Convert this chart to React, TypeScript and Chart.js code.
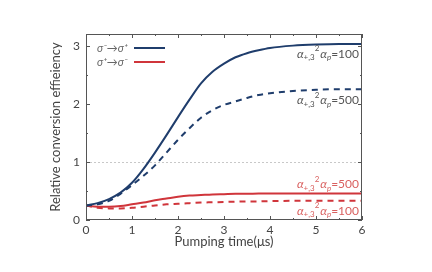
import React, { useEffect, useRef } from "react";
import { Chart, registerables } from "chart.js";

Chart.register(...registerables);

const times = [0, 0.25, 0.5, 0.75, 1, 1.25, 1.5, 1.75, 2, 2.25, 2.5, 2.75, 3, 3.25, 3.5, 3.75, 4, 4.5, 5, 5.5, 6];
const blueSolid = [0.25, 0.29, 0.36, 0.47, 0.64, 0.88, 1.16, 1.46, 1.77, 2.07, 2.35, 2.55, 2.69, 2.8, 2.87, 2.92, 2.96, 3.0, 3.02, 3.03, 3.03];
const blueDashed = [0.25, 0.27, 0.33, 0.45, 0.6, 0.76, 0.94, 1.16, 1.38, 1.58, 1.76, 1.89, 1.98, 2.04, 2.1, 2.15, 2.18, 2.22, 2.24, 2.25, 2.25];
const redSolid = [0.25, 0.23, 0.23, 0.24, 0.27, 0.3, 0.34, 0.37, 0.4, 0.42, 0.43, 0.44, 0.445, 0.45, 0.45, 0.455, 0.455, 0.455, 0.455, 0.455, 0.455];
const redDashed = [0.25, 0.21, 0.2, 0.2, 0.21, 0.23, 0.25, 0.27, 0.28, 0.29, 0.3, 0.305, 0.31, 0.315, 0.32, 0.32, 0.325, 0.33, 0.33, 0.33, 0.33];

const xTicks = [0, 1, 2, 3, 4, 5, 6];
const yTicks = [0, 1, 2, 3];
const legendLabels = ["σ⁻→σ⁺", "σ⁺→σ⁻"];
const curveLabels = ["100", "500", "500", "100"];

const NAVY = "#1f3d6c";
const RED = "#d0353b";
const FONT = "Lato, 'DejaVu Sans', sans-serif";

function drawAlphaLabel(ctx: CanvasRenderingContext2D, rightX: number, cy: number, value: string, color: string) {
  // α_{+,3}^2 α_p = value, right-aligned at rightX
  const big = "12px " + FONT;
  const small = "8px " + FONT;
  ctx.save();
  ctx.fillStyle = color;
  ctx.textBaseline = "middle";
  ctx.textAlign = "left";
  const parts: { t: string; f: string; dy: number; gap: number }[] = [
    { t: "α", f: "italic " + big, dy: 0, gap: 0 },
    { t: "+,3", f: small, dy: 4, gap: 0 },
    { t: "2", f: small, dy: -5, gap: 1 },
    { t: "α", f: "italic " + big, dy: 0, gap: 0 },
    { t: "p", f: "italic " + small, dy: 4, gap: 0 },
    { t: "=" + value, f: big, dy: 0, gap: 0 },
  ];
  const widths: number[] = parts.map((p) => {
    ctx.font = p.f;
    return ctx.measureText(p.t).width;
  });
  let total = 0;
  parts.forEach((p, i) => { total += widths[i] + p.gap; });
  let x = rightX - total;
  parts.forEach((p, i) => {
    ctx.font = p.f;
    ctx.fillText(p.t, x, cy + p.dy);
    x += widths[i] + p.gap;
  });
  ctx.restore();
}

const framePlugin = {
  id: "frame",
  beforeDatasetsDraw(chart: any) {
    const { ctx, chartArea, scales } = chart;
    const y1 = scales.y.getPixelForValue(1);
    ctx.save();
    ctx.strokeStyle = "#c8c8c8";
    ctx.lineWidth = 1;
    ctx.setLineDash([2, 2]);
    ctx.beginPath();
    ctx.moveTo(chartArea.left, Math.round(y1) + 0.5);
    ctx.lineTo(chartArea.right, Math.round(y1) + 0.5);
    ctx.stroke();
    ctx.restore();
  },
  afterDraw(chart: any) {
    const { ctx, chartArea, scales } = chart;
    const { left, right, top, bottom } = chartArea;
    ctx.save();
    ctx.strokeStyle = "#555";
    ctx.lineWidth = 1;
    ctx.strokeRect(left + 0.5, top + 0.5, right - left - 1, bottom - top - 1);
    ctx.beginPath();
    for (let v = 0; v <= 6.001; v += 0.5) {
      const px = Math.round(scales.x.getPixelForValue(v)) + 0.5;
      const len = Math.abs(v - Math.round(v)) < 1e-6 ? 4 : 2;
      ctx.moveTo(px, bottom);
      ctx.lineTo(px, bottom - len);
      ctx.moveTo(px, top);
      ctx.lineTo(px, top + len);
    }
    for (let v = 0; v <= 3.001; v += 0.5) {
      const py = Math.round(scales.y.getPixelForValue(v)) + 0.5;
      const len = Math.abs(v - Math.round(v)) < 1e-6 ? 4 : 2;
      ctx.moveTo(left, py);
      ctx.lineTo(left + len, py);
      ctx.moveTo(right, py);
      ctx.lineTo(right - len, py);
    }
    ctx.stroke();

    // legend
    ctx.font = "italic 11px " + FONT;
    ctx.fillStyle = "#666";
    ctx.textBaseline = "middle";
    ctx.textAlign = "left";
    const lx = left + 11;
    const ly0 = top + 14;
    const colors = [NAVY, RED];
    legendLabels.forEach((lab, i) => {
      const ly = ly0 + i * 14;
      ctx.fillText(lab, lx, ly);
      ctx.strokeStyle = colors[i];
      ctx.lineWidth = 2;
      ctx.beginPath();
      ctx.moveTo(left + 48, ly);
      ctx.lineTo(left + 79, ly);
      ctx.stroke();
    });

    // curve labels
    const rx = right - 3;
    const n = times.length - 1;
    const yb1 = scales.y.getPixelForValue(blueSolid[n]);
    const yb2 = scales.y.getPixelForValue(blueDashed[n]);
    const yr1 = scales.y.getPixelForValue(redSolid[n]);
    const yr2 = scales.y.getPixelForValue(redDashed[n]);
    drawAlphaLabel(ctx, rx, yb1 + 10, curveLabels[0], "#555");
    drawAlphaLabel(ctx, rx, yb2 + 11, curveLabels[1], "#555");
    drawAlphaLabel(ctx, rx, yr1 - 9, curveLabels[2], "#d9605f");
    drawAlphaLabel(ctx, rx, yr2 + 10, curveLabels[3], "#d9605f");
    ctx.restore();
  },
};

export default function App() {
  const ref = useRef<HTMLCanvasElement>(null);
  useEffect(() => {
    if (!ref.current) return;
    const mk = (arr: number[]) => times.map((t, i) => ({ x: t, y: arr[i] }));
    const chart = new Chart(ref.current, {
      type: "line",
      data: {
        datasets: [
          { label: "blue100", data: mk(blueSolid), borderColor: NAVY, borderWidth: 2, pointRadius: 0, cubicInterpolationMode: "monotone" },
          { label: "blue500", data: mk(blueDashed), borderColor: NAVY, borderWidth: 2, borderDash: [6, 5], pointRadius: 0, cubicInterpolationMode: "monotone" },
          { label: "red500", data: mk(redSolid), borderColor: RED, borderWidth: 2, pointRadius: 0, cubicInterpolationMode: "monotone" },
          { label: "red100", data: mk(redDashed), borderColor: RED, borderWidth: 2, borderDash: [6, 5], pointRadius: 0, cubicInterpolationMode: "monotone" },
        ] as any,
      },
      options: {
        animation: false,
        responsive: false,
        layout: { padding: { left: 0, right: 70, top: 34, bottom: 0 } },
        plugins: { legend: { display: false }, tooltip: { enabled: false } },
        scales: {
          x: {
            type: "linear",
            min: 0,
            max: 6,
            afterFit: (s: any) => { s.height = 52; },
            afterBuildTicks: (s: any) => { s.ticks = xTicks.map((v) => ({ value: v })); },
            grid: { display: false, drawTicks: false },
            border: { display: false },
            ticks: { padding: 3, color: "#444", font: { family: FONT, size: 12 }, maxRotation: 0 },
            title: { display: true, text: "Pumping time(μs)", color: "#444", font: { family: FONT, size: 13 }, padding: { top: 0, bottom: 22 } },
          },
          y: {
            type: "linear",
            min: 0,
            max: 3.2,
            afterFit: (s: any) => { s.width = 86; },
            afterBuildTicks: (s: any) => { s.ticks = yTicks.map((v) => ({ value: v })); },
            grid: { display: false, drawTicks: false },
            border: { display: false },
            ticks: { padding: 6, color: "#444", font: { family: FONT, size: 12 } },
            title: { display: true, text: "Relative conversion effieiency", color: "#444", font: { family: FONT, size: 13 }, padding: { top: 48, bottom: 0 } },
          },
        },
      },
      plugins: [framePlugin],
    } as any);
    return () => chart.destroy();
  }, []);
  return (
    <div style={{ position: "absolute", left: 0, top: 0, width: 432, height: 272, background: "#fff" }}>
      <canvas ref={ref} width={432} height={272} style={{ width: 432, height: 272 }} />
    </div>
  );
}
